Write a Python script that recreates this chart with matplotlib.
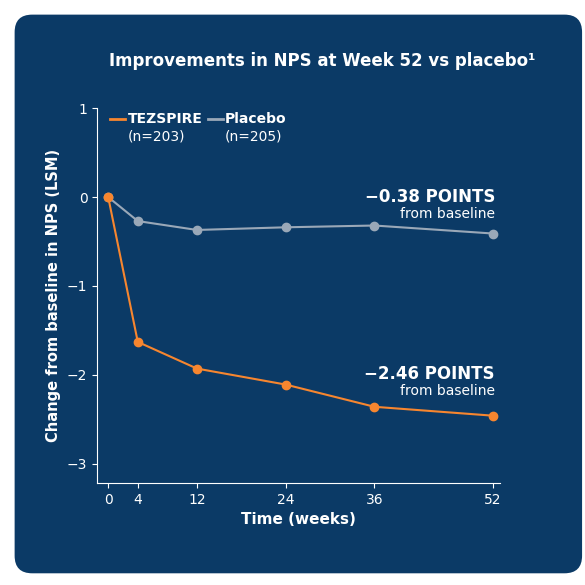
import matplotlib.pyplot as plt
from matplotlib.patches import FancyBboxPatch

weeks = [0, 4, 12, 24, 36, 52]
tez = [0, -1.63, -1.93, -2.11, -2.36, -2.46]
plac = [0, -0.27, -0.37, -0.34, -0.32, -0.41]
yticks = [1, 0, -1, -2, -3]
ylabels = ['1', '0', '−1', '−2', '−3']

bg = '#0b3a66'
orange = '#f7862f'
grey = '#9aa8b8'
fig = plt.figure(figsize=(5.85, 5.85), dpi=100)
fig.patch.set_facecolor('white')
fig.patches.append(FancyBboxPatch((0.025, 0.02), 0.97, 0.955, boxstyle='round,pad=0,rounding_size=0.03',
                                  transform=fig.transFigure, facecolor=bg, edgecolor='none', zorder=-5))
ax = fig.add_axes([0.166, 0.174, 0.689, 0.641])
ax.set_zorder(2)
ax.set_facecolor('none')
ax.plot(weeks, plac, color=grey, lw=1.5, marker='o', ms=6, clip_on=False)
ax.plot(weeks, tez, color=orange, lw=1.5, marker='o', ms=6, clip_on=False)
ax.set_xlim(-1.5, 53)
ax.set_ylim(-3.22, 1)
ax.set_xticks(weeks)
ax.set_yticks(yticks, ylabels)
for s in ['top', 'right']:
    ax.spines[s].set_visible(False)
for s in ['left', 'bottom']:
    ax.spines[s].set_color('white')
ax.tick_params(colors='white', labelsize=10)
ax.set_xlabel('Time (weeks)', color='white', fontsize=11, fontweight='bold')
ax.set_ylabel('Change from baseline in NPS (LSM)', color='white', fontsize=10.5, fontweight='bold')
fig.text(0.55, 0.895, 'Improvements in NPS at Week 52 vs placebo¹', color='white', fontsize=12,
         fontweight='bold', ha='center', va='center')
ax.text(52.3, 0.0, '−0.38 POINTS', color='white', fontsize=12, fontweight='bold', ha='right', va='center')
ax.text(52.3, -0.19, 'from baseline', color='white', fontsize=10, ha='right', va='center')
ax.text(52.3, -1.99, '−2.46 POINTS', color='white', fontsize=12, fontweight='bold', ha='right', va='center')
ax.text(52.3, -2.18, 'from baseline', color='white', fontsize=10, ha='right', va='center')
# legend
ax.plot([0.3, 2.3], [0.88, 0.88], color=orange, lw=2)
ax.text(2.6, 0.88, 'TEZSPIRE', color='white', fontsize=10, fontweight='bold', va='center')
ax.text(2.6, 0.68, '(n=203)', color='white', fontsize=10, va='center')
ax.plot([13.5, 15.5], [0.88, 0.88], color=grey, lw=2)
ax.text(15.8, 0.88, 'Placebo', color='white', fontsize=10, fontweight='bold', va='center')
ax.text(15.8, 0.68, '(n=205)', color='white', fontsize=10, va='center')
fig.savefig('out.png', dpi=100)
